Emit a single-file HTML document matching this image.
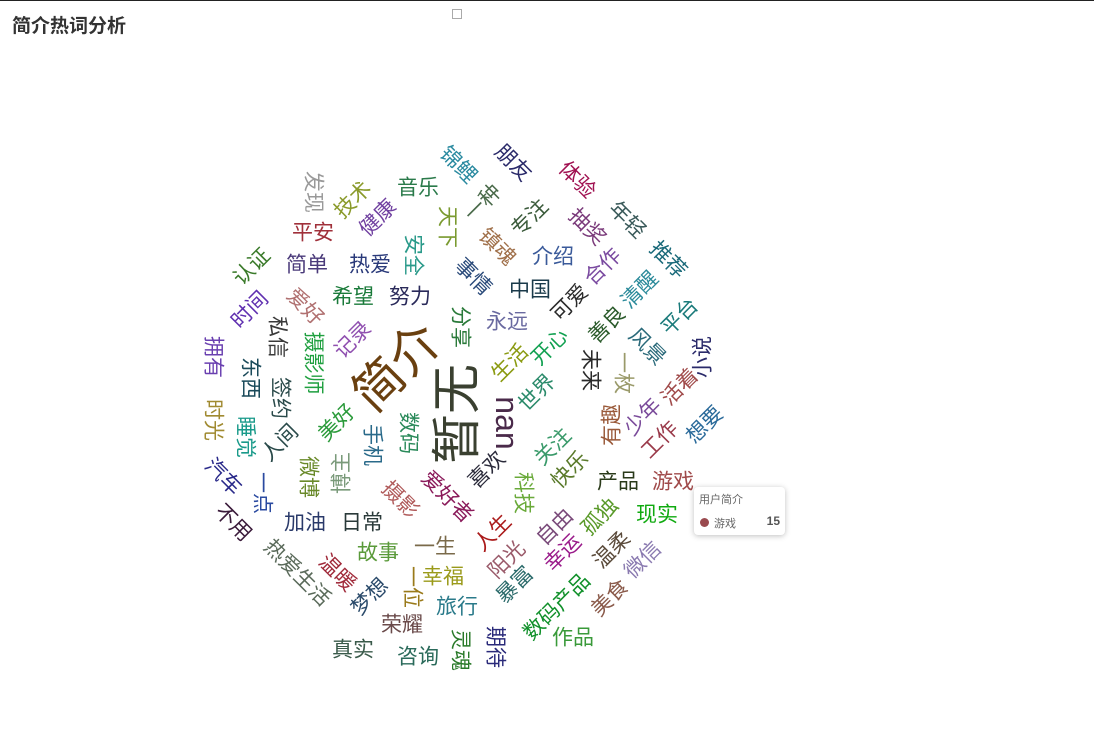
<!DOCTYPE html>
<html><head><meta charset="utf-8">
<style>
html,body{margin:0;padding:0;background:#fff;width:1094px;height:750px;overflow:hidden;font-family:"Liberation Sans","Noto Sans CJK SC",sans-serif;}
#topline{position:absolute;left:0;top:0;width:1094px;height:1px;background:#222;}
#title{position:absolute;left:12px;top:11px;font-size:19px;font-weight:bold;color:#333;}
#legendicon{position:absolute;left:452px;top:9px;width:8px;height:8px;border:1px solid #aaa;}
#tip{position:absolute;left:694px;top:487px;width:91px;height:48px;background:#fff;border-radius:4px;box-shadow:0 1px 6px rgba(0,0,0,.25);font-size:11px;color:#666;}
svg{position:absolute;left:0;top:0;}
</style></head><body>
<div id="topline"></div>
<div id="title">简介热词分析</div>
<div id="legendicon"></div>
<svg id="cloud" width="1094" height="750"></svg>
<div id="tip">
 <div style="position:absolute;left:5px;top:4px;">用户简介</div>
 <div style="position:absolute;left:6px;top:31px;width:9px;height:9px;border-radius:50%;background:#9a4a4f;"></div>
 <div style="position:absolute;left:20px;top:28px;">游戏</div>
 <div style="position:absolute;right:5px;top:27px;font-weight:bold;font-size:12px;color:#555;">15</div>
</div>
<script>
const words=["简介","暂无","nan","发现","技术","音乐","平安","健康","天下","安全","认证","简单","热爱","希望","努力","时间","爱好","私信","摄影师","记录","拥有","东西","签约","锦鲤","朋友","体验","一种","专注","抽奖","年轻","镇魂","介绍","合作","推荐","事情","中国","可爱","清醒","平台","分享","永远","善良","风景","小说","开心","生活","未来","一枚","世界","活着","少年","有趣","工作","想要","时光","睡觉","人间","美好","手机","数码","汽车","一点","微博","博主","摄影","爱好者","不用","加油","日常","热爱生活","温暖","故事","一生","梦想","一位","幸福","荣耀","旅行","真实","咨询","灵魂","喜欢","关注","快乐","科技","产品","游戏","人生","自由","孤独","现实","阳光","幸运","温柔","微信","暴富","数码产品","美食","期待","作品"];
const weights=[50,50,32,21,21,21,21,21,21,21,21,21,21,21,21,21,21,21,21,21,21,21,21,21,21,21,21,21,21,21,21,21,21,21,21,21,21,21,21,21,21,21,21,21,21,21,21,21,21,21,21,21,21,21,21,21,21,21,21,21,21,21,21,21,21,21,21,21,21,21,21,21,21,21,21,21,21,21,21,21,21,21,21,21,21,21,21,21,21,21,21,21,21,21,21,21,21,21,21,21];
const layout=[[397,367,-45],[457,414,-90],[507,423,90],[313,192,90],[353,200,-45],[418,188,0],[313,233,0],[378,218,-45],[447,227,90],[413,255,90],[252,267,-45],[307,265,0],[370,265,0],[353,297,0],[410,297,0],[250,310,-45],[305,307,45],[277,337,90],[313,363,90],[353,340,-45],[213,357,90],[250,378,90],[280,398,90],[458,165,45],[513,163,45],[577,180,45],[483,203,-45],[530,218,-45],[587,227,45],[627,220,45],[497,247,45],[553,257,0],[603,267,-45],[668,260,45],[473,277,45],[530,290,0],[570,303,-45],[640,290,-45],[680,317,-45],[460,327,90],[507,322,0],[607,325,-45],[647,347,45],[703,357,-90],[550,347,-45],[510,363,-45],[590,370,90],[623,373,90],[537,393,-45],[680,387,-45],[643,417,-45],[612,425,-90],[660,440,-45],[705,425,-45],[213,420,90],[245,437,90],[280,443,-45],[337,423,-45],[372,445,90],[408,433,90],[223,477,45],[262,493,90],[308,477,90],[342,473,-90],[400,500,45],[447,497,45],[233,523,45],[305,523,0],[362,523,0],[297,573,45],[337,573,45],[378,553,0],[435,547,0],[370,597,-45],[412,587,90],[443,577,0],[402,625,0],[457,607,0],[353,650,0],[418,657,0],[460,650,90],[487,470,-45],[553,447,-45],[570,470,-45],[523,493,90],[618,482,0],[673,482,0],[493,533,-45],[555,527,-45],[600,517,-45],[657,515,0],[507,560,-45],[563,553,-45],[612,550,-45],[643,560,-45],[515,585,-45],[557,607,-45],[610,598,-45],[495,647,90],[573,638,0]];
const colors=["#6a4010","#3a4030","#4a2a4a","#999999","#8a9a2a","#2a7a4a","#a0303a","#7040a0","#7a9a30","#2a9a8a","#3a7a2a","#4a3a7a","#2a3a7a","#1a7a3a","#2a2a5a","#6030b0","#b07070","#3a3a3a","#20a040","#9050b0","#6a40b0","#1a4a5a","#2a4a4a","#2a8aa0","#2a2a6a","#a01050","#4a6a4a","#3a5a3a","#7a3a7a","#3a5a5a","#a0704a","#3a5a9a","#7a4aa0","#1a6a7a","#2a4a7a","#1a3a4a","#2a2a2a","#2a8a9a","#1a7a7a","#2a7a3a","#6a6aa0","#2a5a2a","#2a6a7a","#2a2a6a","#10a050","#8a9a10","#2a2a2a","#9a9a6a","#2a8a6a","#a04a4a","#7a4a9a","#9a5a3a","#9a3a4a","#2a6a9a","#a08a30","#1a9a8a","#2a4a4a","#2a9a3a","#2a6a8a","#2a8a5a","#2a2a8a","#2a4aa0","#6a8a2a","#7a9a7a","#b05a5a","#8a1a5a","#3a1a3a","#2a3a6a","#2a3a3a","#5a6a5a","#a02a3a","#5a9a3a","#7a6a4a","#2a4a6a","#9a7a1a","#9a9a1a","#6a4a4a","#2a7a8a","#3a5a4a","#2a6a5a","#2a7a2a","#2a2a3a","#3a9a6a","#5a7a2a","#6aaa3a","#2a3a1a","#a04a4a","#aa1a1a","#7a4a7a","#5a9a2a","#10aa10","#9a5a6a","#9a1a8a","#5a4a3a","#8a7ab0","#2a6a6a","#10902a","#8a5a4a","#2a2a7a","#3a9a3a"];
const svg=document.getElementById('cloud');
const NS='http://www.w3.org/2000/svg';
for(let i=0;i<words.length;i++){
  const L=layout[i];
  const t=document.createElementNS(NS,'text');
  
  
  t.setAttribute('x',L[0]);t.setAttribute('y',L[1]);
  t.setAttribute('text-anchor','middle');
  t.setAttribute('dominant-baseline','central');
  t.setAttribute('font-size',weights[i]);
  t.setAttribute('fill',colors[i]);
  t.setAttribute('font-family','"Liberation Sans","Noto Sans CJK SC",sans-serif');
  t.setAttribute('transform','rotate('+L[2]+' '+L[0]+' '+L[1]+')');
  t.textContent=words[i];
  svg.appendChild(t);
}
</script>
</body></html>
